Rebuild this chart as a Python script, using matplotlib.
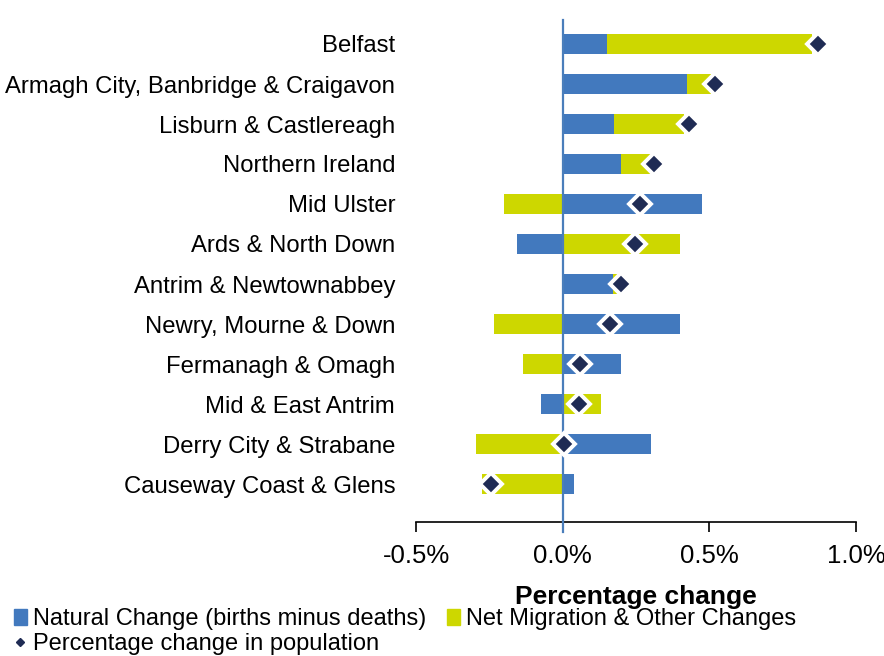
import matplotlib.pyplot as plt
import numpy as np
from matplotlib.lines import Line2D
from matplotlib.patches import Patch

plt.rcParams['font.family'] = ['Liberation Sans', 'DejaVu Sans']

areas = ["Belfast", "Armagh City, Banbridge & Craigavon", "Lisburn & Castlereagh",
         "Northern Ireland", "Mid Ulster", "Ards & North Down", "Antrim & Newtownabbey",
         "Newry, Mourne & Down", "Fermanagh & Omagh", "Mid & East Antrim",
         "Derry City & Strabane", "Causeway Coast & Glens"]
# values in percent
natural = [0.15, 0.425, 0.175, 0.20, 0.475, -0.155, 0.17, 0.40, 0.20, -0.075, 0.30, 0.04]
migration = [0.70, 0.08, 0.24, 0.10, -0.20, 0.40, 0.017, -0.235, -0.135, 0.13, -0.295, -0.275]
total = [0.87, 0.52, 0.43, 0.31, 0.265, 0.245, 0.20, 0.16, 0.06, 0.055, 0.003, -0.245]
xticks = [-0.5, 0.0, 0.5, 1.0]

blue = "#4279BE"
yellow = "#CDD700"
navy = "#1F2B54"

fig = plt.figure(figsize=(8.84, 6.56), dpi=100)
ax = fig.add_axes([416 / 884, 1 - 522 / 656, 440 / 884, 502 / 656])

y = np.arange(len(areas))
nat = np.array(natural)
mig = np.array(migration)
# excel style stacking: positives go right from 0, negatives go left from 0
mig_left = np.where(np.sign(mig) == np.sign(nat), nat, 0.0)
ax.barh(y, nat, height=0.5, color=blue, zorder=2)
ax.barh(y, mig, left=mig_left, height=0.5, color=yellow, zorder=2)
ax.axvline(0, ymin=-0.02, ymax=1, color="#4A7EBB", lw=1.6, zorder=3, clip_on=False)
ax.plot(total, y, ls="none", marker="D", markersize=11.5, markerfacecolor=navy,
        markeredgecolor="white", markeredgewidth=2.8, zorder=4)

ax.set_xlim(-0.5, 1.0)
ax.set_ylim(11.95, -0.6)
ax.set_xticks(xticks)
ax.set_xticklabels([f"{t:.1f}%" for t in xticks], fontsize=18.5)
ax.tick_params(axis="x", direction="out", length=7, width=1.2, pad=9)
ax.set_yticks(y)
ax.set_yticklabels(areas, fontsize=17.2)
ax.tick_params(axis="y", length=0, pad=15)
for s in ["top", "right", "left"]:
    ax.spines[s].set_visible(False)
ax.spines["bottom"].set_linewidth(1.2)
ax.set_xlabel("Percentage change", fontsize=19, fontweight="bold", labelpad=12)

handles = [Patch(color=blue, label="Natural Change (births minus deaths)"),
           Line2D([], [], ls="none", marker="D", markersize=4, color=navy,
                  label="Percentage change in population"),
           Patch(color=yellow, label="Net Migration & Other Changes")]
fig.legend(handles=handles, ncol=2, loc="lower left", bbox_to_anchor=(-0.003, -0.024),
           frameon=False, fontsize=17, handlelength=0.55, handleheight=0.7,
           handletextpad=0.25, columnspacing=0.9, labelspacing=0.12, borderpad=0.2)

fig.savefig("out.png", dpi=100)
